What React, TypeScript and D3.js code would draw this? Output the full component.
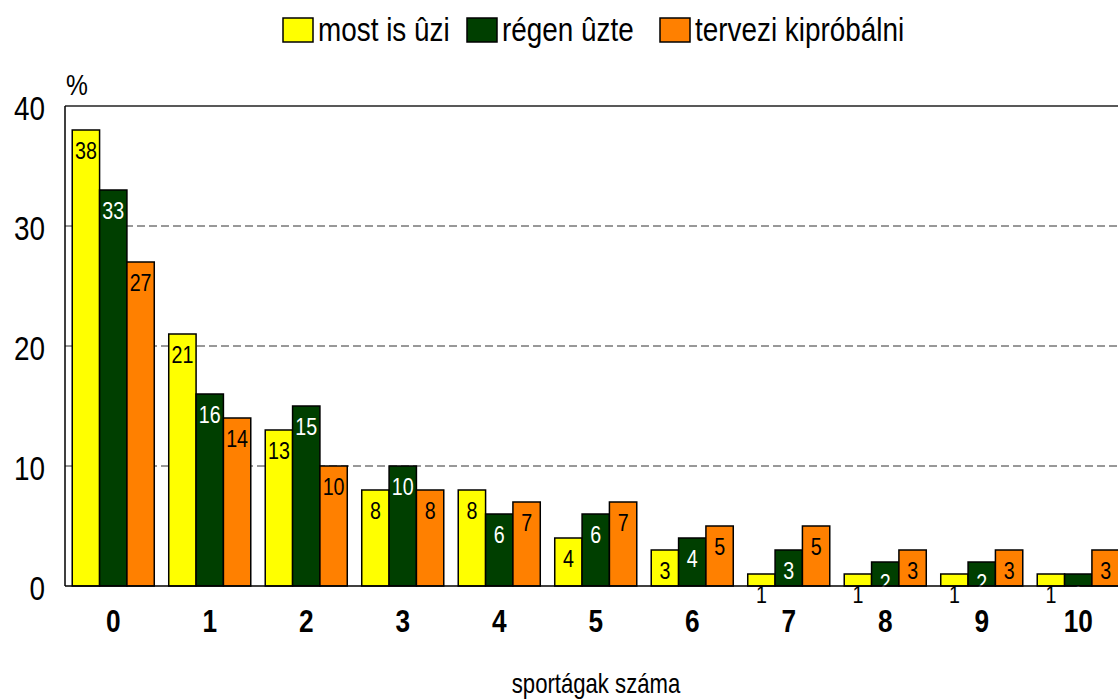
import React from "react";
import * as d3 from "d3";

const categories = ["0", "1", "2", "3", "4", "5", "6", "7", "8", "9", "10"];
const seriesNames = ["most is ûzi", "régen ûzte", "tervezi kipróbálni"];
const mostIsUzi = [38, 21, 13, 8, 8, 4, 3, 1, 1, 1, 1];
const regenUzte = [33, 16, 15, 10, 6, 6, 4, 3, 2, 2, 1];
const tervezi = [27, 14, 10, 8, 7, 7, 5, 5, 3, 3, 3];
const yTicks = [0, 10, 20, 30, 40];
const colors = ["#FFFF00", "#003F00", "#FF8000"];
const labelColors = ["#000", "#fff", "#000"];

const W = 1118;
const H = 699;
const FONT = "'Liberation Sans', Arial, sans-serif";
const SX = 0.82;

function NText({ x, y, size, anchor = "start", bold = false, fill = "#000", children }: any) {
  return (
    <text
      transform={`translate(${x},${y}) scale(${SX},1)`}
      textAnchor={anchor}
      fontFamily={FONT}
      fontSize={size}
      fontWeight={bold ? "bold" : "normal"}
      fill={fill}
    >
      {children}
    </text>
  );
}

export default function App() {
  const series = [mostIsUzi, regenUzte, tervezi];
  const x = d3.scaleBand().domain(categories).range([65, 1126.5]).paddingInner(0.15).paddingOuter(0.075);
  const xs = d3.scaleBand().domain(["0", "1", "2"]).range([0, x.bandwidth()]);
  const y = d3.scaleLinear().domain([0, 40]).range([586, 106]);

  const legendX = [283, 467, 660];

  return (
    <svg width={W} height={H} style={{ position: "absolute", left: 0, top: 0, background: "#fff" }}>
      {/* legend */}
      {seriesNames.map((n, i) => (
        <g key={n}>
          <rect x={legendX[i]} y={18} width={30} height={24} fill={colors[i]} stroke="#000" strokeWidth={1.5} />
          <NText x={legendX[i] + 35} y={41} size={34}>{n}</NText>
        </g>
      ))}
      {/* gridlines */}
      {yTicks.filter((t) => t > 0 && t < 40).map((t) => (
        <line key={t} x1={65} x2={W} y1={y(t)} y2={y(t)} stroke="#333" strokeWidth={1} strokeDasharray="8,4" />
      ))}
      <line x1={65} x2={W} y1={y(40)} y2={y(40)} stroke="#222" strokeWidth={1.5} />
      {/* y ticks */}
      {yTicks.map((t) => (
        <NText key={t} x={45} y={y(t) + 14} size={34} anchor="end">{String(t)}</NText>
      ))}
      <NText x={66} y={95} size={30}>%</NText>
      {/* bars */}
      {categories.map((c, ci) => (
        <g key={c} transform={`translate(${x(c)},0)`}>
          {series.map((s, si) => (
            <rect
              key={si}
              x={xs(String(si))}
              y={y(s[ci])}
              width={xs.bandwidth()}
              height={y(0) - y(s[ci])}
              fill={colors[si]}
              stroke="#000"
              strokeWidth={1.5}
            />
          ))}
        </g>
      ))}
      {/* labels */}
      {categories.map((c, ci) => (
        <g key={"l" + c}>
          {series.map((s, si) => (
            <NText
              key={si}
              x={(x(c) as number) + (xs(String(si)) as number) + xs.bandwidth() / 2}
              y={y(s[ci]) + 29}
              size={24}
              anchor="middle"
              fill={labelColors[si]}
            >
              {String(s[ci])}
            </NText>
          ))}
        </g>
      ))}
      {/* axes */}
      <line x1={65} x2={65} y1={y(40)} y2={y(0)} stroke="#000" strokeWidth={1.5} />
      <line x1={65} x2={W} y1={y(0)} y2={y(0)} stroke="#000" strokeWidth={1.5} />
      {categories.map((c) => (
        <NText key={"t" + c} x={(x(c) as number) + x.bandwidth() / 2} y={632} size={32} anchor="middle" bold>
          {c}
        </NText>
      ))}
      <NText x={596} y={693} size={27} anchor="middle">sportágak száma</NText>
    </svg>
  );
}
